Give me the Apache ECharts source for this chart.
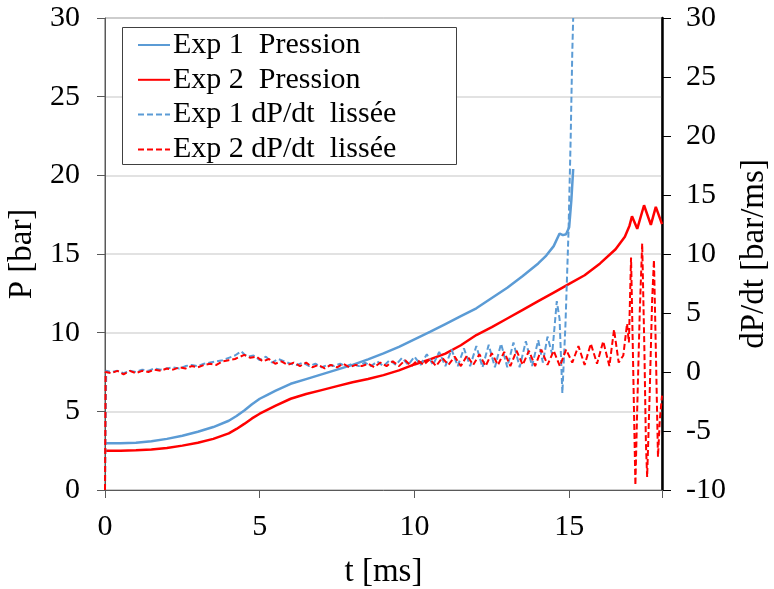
<!DOCTYPE html>
<html>
<head>
<meta charset="utf-8">
<script src="https://cdn.jsdelivr.net/npm/echarts@6/dist/echarts.min.js"></script>
<style>html,body{margin:0;padding:0;background:#fff}#c{width:774px;height:589px}</style>
</head>
<body>
<div id="c"></div>
<script>
// ---- Data ----
var xTicks = [0, 5, 10, 15];
var pTicks = [0, 5, 10, 15, 20, 25, 30];
var dTicks = [-10, -5, 0, 5, 10, 15, 20, 25, 30];

var tP1 = [0, 0.5, 1, 1.5, 2, 2.5, 3, 3.5, 4, 4.25, 4.5, 4.75, 5, 5.25, 5.5, 6, 6.5, 7, 7.5, 8, 8.5, 9, 9.5, 10, 10.5, 11, 11.5, 12, 12.5, 13, 13.5, 14, 14.26, 14.5, 14.69, 14.8, 14.9, 15.0, 15.07, 15.13];
var p1  = [2.97, 2.97, 3.0, 3.1, 3.25, 3.45, 3.7, 4.0, 4.4, 4.7, 5.05, 5.45, 5.8, 6.05, 6.3, 6.75, 7.05, 7.35, 7.65, 7.95, 8.3, 8.68, 9.1, 9.58, 10.05, 10.55, 11.05, 11.55, 12.2, 12.85, 13.6, 14.4, 14.9, 15.5, 16.3, 16.2, 16.25, 16.7, 18.4, 20.4];

var tP2 = [0, 0.5, 1, 1.5, 2, 2.5, 3, 3.5, 4, 4.25, 4.5, 4.75, 5, 5.5, 6, 6.5, 7, 7.5, 8, 8.5, 9, 9.5, 10, 10.5, 11, 11.5, 12, 12.5, 13, 13.5, 14, 14.5, 15, 15.5, 16, 16.5, 16.8, 16.95, 17.03, 17.2, 17.42, 17.64, 17.8, 18.0];
var p2  = [2.5, 2.5, 2.52, 2.57, 2.67, 2.82, 3.0, 3.25, 3.6, 3.88, 4.2, 4.55, 4.85, 5.35, 5.8, 6.1, 6.35, 6.6, 6.85, 7.05, 7.3, 7.6, 7.98, 8.3, 8.67, 9.2, 9.85, 10.35, 10.9, 11.45, 12.0, 12.55, 13.1, 13.65, 14.4, 15.3, 16.1, 16.8, 17.4, 16.6, 18.1, 16.85, 18.0, 16.9];

var tD1 = [0, 0.04, 0.2, 0.4, 0.6, 0.8, 1.0, 1.2, 1.4, 1.6, 1.8, 2.0, 2.2, 2.4, 2.6, 2.8, 3.0, 3.2, 3.4, 3.6, 3.8, 4.0, 4.2, 4.4, 4.5, 4.6, 4.8, 5.0, 5.2, 5.4, 5.6, 5.8, 6.0, 6.2, 6.4, 6.6, 6.8, 7.0, 7.2, 7.4, 7.6, 7.8, 8.0, 8.2, 8.4, 8.6, 8.8, 9.0, 9.2, 9.4, 9.6, 9.8, 10.0, 10.2, 10.4, 10.6, 10.8, 11.0, 11.2, 11.4, 11.6, 11.8, 12.0, 12.2, 12.4, 12.6, 12.8, 13.0, 13.2, 13.4, 13.6, 13.8, 14.0, 14.15, 14.3, 14.45, 14.6, 14.69, 14.78, 14.88, 14.98, 15.05, 15.1, 15.13];
var d1  = [-10, 0.1, 0.0, 0.1, -0.1, 0.1, 0.0, 0.2, 0.1, 0.3, 0.2, 0.3, 0.4, 0.3, 0.5, 0.6, 0.5, 0.7, 0.8, 0.9, 1.0, 1.2, 1.4, 1.75, 1.5, 1.3, 1.4, 1.0, 1.3, 0.8, 1.1, 0.9, 0.7, 0.6, 0.8, 0.5, 0.7, 0.4, 0.6, 0.5, 0.7, 0.5, 0.7, 0.5, 0.8, 0.5, 0.9, 0.5, 1.0, 0.6, 1.2, 0.6, 1.3, 0.6, 1.5, 0.6, 1.7, 0.5, 1.9, 0.5, 2.0, 0.5, 2.2, 0.4, 2.3, 0.4, 2.4, 0.4, 2.5, 0.4, 2.6, 0.5, 2.7, 0.8, 3.0, 1.5, 6.0, 4.5, -1.8, 4.0, 12.0, 20.0, 27.0, 30.0];

var tD2 = [0, 0.02, 0.2, 0.4, 0.6, 0.8, 1.0, 1.2, 1.4, 1.6, 1.8, 2.0, 2.2, 2.4, 2.6, 2.8, 3.0, 3.2, 3.4, 3.6, 3.8, 4.0, 4.2, 4.5, 4.7, 4.9, 5.1, 5.3, 5.5, 5.7, 5.9, 6.1, 6.3, 6.5, 6.7, 6.9, 7.1, 7.3, 7.5, 7.7, 7.9, 8.1, 8.3, 8.5, 8.7, 8.9, 9.1, 9.3, 9.5, 9.7, 9.9, 10.1, 10.3, 10.5, 10.7, 10.9, 11.1, 11.3, 11.5, 11.7, 11.9, 12.1, 12.3, 12.5, 12.7, 12.9, 13.1, 13.3, 13.5, 13.7, 13.9, 14.1, 14.3, 14.5, 14.7, 14.9, 15.1, 15.3, 15.5, 15.7, 15.9, 16.1, 16.3, 16.45, 16.6, 16.75, 16.87, 16.93, 17.0, 17.05, 17.1, 17.14, 17.2, 17.28, 17.36, 17.43, 17.48, 17.52, 17.6, 17.68, 17.74, 17.8, 17.87, 17.93, 18.0];
var d2  = [-10, 0.0, -0.1, 0.1, -0.2, 0.1, -0.1, 0.1, 0.0, 0.2, 0.1, 0.3, 0.2, 0.4, 0.3, 0.5, 0.4, 0.6, 0.7, 0.6, 0.9, 1.0, 1.1, 1.45, 1.2, 1.3, 0.9, 1.1, 0.7, 0.9, 0.6, 0.8, 0.5, 0.8, 0.4, 0.6, 0.3, 0.6, 0.4, 0.7, 0.4, 0.6, 0.5, 0.7, 0.4, 0.8, 0.5, 0.9, 0.5, 1.0, 0.5, 1.0, 0.6, 1.1, 0.5, 1.2, 0.6, 1.3, 0.5, 1.4, 0.6, 1.5, 0.5, 1.6, 0.6, 1.7, 0.5, 1.8, 0.6, 1.8, 0.5, 1.9, 0.6, 1.8, 0.5, 1.9, 0.8, 2.2, 0.6, 2.4, 0.7, 2.6, 0.5, 3.6, 0.8, 1.4, 4.1, 2.5, 9.7, 3.0, -4.0, -9.6, -3.0, 5.0, 10.9, 2.0, -6.0, -8.9, -2.0, 6.0, 9.5, 2.0, -7.2, -4.0, -2.0];

var names = ['Exp 1  Pression', 'Exp 2  Pression', 'Exp 1 dP/dt  lissée', 'Exp 2 dP/dt  lissée'];
var xName = 't [ms]', pName = 'P [bar]', dName = 'dP/dt [bar/ms]';

function zip(a, b) { return a.map(function (v, i) { return [v, b[i]]; }); }

var FONT = 'Liberation Serif';
var BLUE = '#5B9BD5', RED = '#FF0000';
var TICK_FS = 30, NAME_FS = 33;

var chart = echarts.init(document.getElementById('c'), null, { renderer: 'canvas' });
chart.setOption({
  animation: false,
  backgroundColor: '#fff',
  textStyle: { fontFamily: FONT },
  grid: { left: 105, right: 112, top: 18, bottom: 99, containLabel: false, outerBoundsMode: 'none',
    show: true, borderColor: '#595959', borderWidth: 1, backgroundColor: 'transparent' },
  graphic: [{
    type: 'rect', z: 3,
    shape: { x: 122.5, y: 27.5, width: 334, height: 137 },
    style: { fill: '#fff', stroke: '#404040', lineWidth: 1 }
  }],
  legend: {
    z: 6,
    left: 137, top: 30, orient: 'vertical', padding: 0,
    itemGap: 4.8, itemWidth: 32, itemHeight: 14,
    itemStyle: { opacity: 0 },
    textStyle: { fontFamily: FONT, fontSize: 30, lineHeight: 30, color: '#000', padding: [0, 0, 0, -2] },
    data: names
  },
  xAxis: {
    type: 'value', min: 0, max: 18, interval: 5,
    name: xName, nameLocation: 'middle', nameGap: 66,
    nameTextStyle: { fontFamily: FONT, fontSize: NAME_FS, color: '#000' },
    axisLine: { show: true, lineStyle: { color: '#595959', width: 1 } },
    axisTick: { show: true, inside: false, length: 8, lineStyle: { color: '#595959' } },
    axisLabel: { fontFamily: FONT, fontSize: TICK_FS, color: '#000', margin: 22,
      formatter: function (v) { return xTicks.indexOf(v) >= 0 ? String(v) : ''; } },
    splitLine: { show: false }
  },
  yAxis: [{
    type: 'value', min: 0, max: 30, interval: 5, position: 'left',
    name: pName, nameLocation: 'middle', nameGap: 61, nameRotate: 90,
    nameTextStyle: { fontFamily: FONT, fontSize: NAME_FS, color: '#000' },
    axisLine: { show: true, lineStyle: { color: '#595959', width: 1 } },
    axisTick: { show: true, inside: false, length: 8, lineStyle: { color: '#595959' } },
    axisLabel: { fontFamily: FONT, fontSize: TICK_FS, color: '#000', margin: 25,
      formatter: function (v) { return pTicks.indexOf(v) >= 0 ? String(v) : ''; } },
    splitLine: { show: true, lineStyle: { color: '#d9d9d9', width: 1.5 } }
  }, {
    type: 'value', min: -10, max: 30, interval: 5, position: 'right',
    name: dName, nameLocation: 'middle', nameGap: 76, nameRotate: 90,
    nameTextStyle: { fontFamily: FONT, fontSize: NAME_FS, color: '#000' },
    axisLine: { show: true, lineStyle: { color: '#000', width: 2.5 } },
    axisTick: { show: true, inside: false, length: 9, lineStyle: { color: '#000', width: 1 } },
    axisLabel: { fontFamily: FONT, fontSize: TICK_FS, color: '#000', margin: 24,
      formatter: function (v) { return dTicks.indexOf(v) >= 0 ? String(v) : ''; } },
    splitLine: { show: false }
  }],
  series: [{
    name: names[0], type: 'line', yAxisIndex: 0, symbol: 'none', smooth: false,
    data: zip(tP1, p1), lineStyle: { color: BLUE, width: 2.5 }, itemStyle: { color: BLUE }
  }, {
    name: names[1], type: 'line', yAxisIndex: 0, symbol: 'none', smooth: false,
    data: zip(tP2, p2), lineStyle: { color: RED, width: 2.5 }, itemStyle: { color: RED }
  }, {
    name: names[2], type: 'line', yAxisIndex: 1, symbol: 'none', smooth: false,
    data: zip(tD1, d1), lineStyle: { color: BLUE, width: 2, type: [6, 3] }, itemStyle: { color: BLUE }
  }, {
    name: names[3], type: 'line', yAxisIndex: 1, symbol: 'none', smooth: false,
    data: zip(tD2, d2), lineStyle: { color: RED, width: 2, type: [6, 3] }, itemStyle: { color: RED }
  }]
});
</script>
</body>
</html>
